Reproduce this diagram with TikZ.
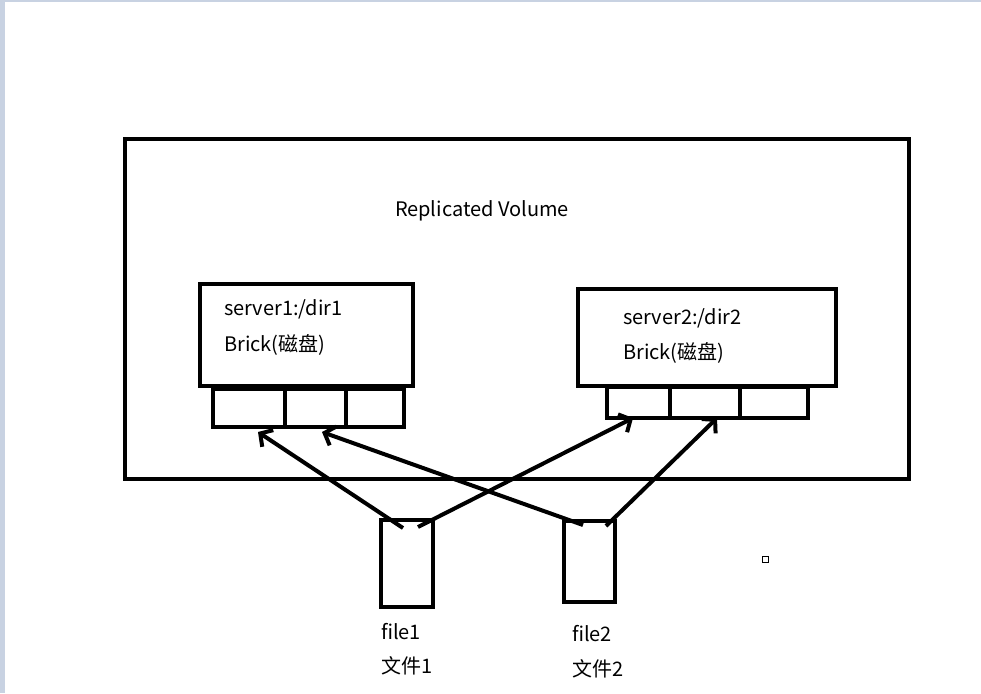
\documentclass[tikz,border=0pt]{standalone}
\usepackage{fontspec}
\setmainfont{Noto Sans CJK SC}
\usetikzlibrary{arrows.meta}
\definecolor{edgeblue}{HTML}{C8D2E2}
\tikzset{
  box/.style={draw=black, line width=4.5pt, inner sep=0pt},
  lbl/.style={anchor=west, inner sep=0pt, font=\fontsize{20}{23}\selectfont},
  arr/.style={line width=4pt, -{Straight Barb[length=9pt,width=20pt,line width=4pt]}}
}
\begin{document}
\begin{tikzpicture}[x=1pt,y=-1pt]
\useasboundingbox (0,0) rectangle (981,693);
\fill[edgeblue] (0,0) rectangle (981,2.5);
\fill[edgeblue] (0,0) rectangle (5,693);
% outer volume
\node[box, line width=4pt, minimum width=784, minimum height=340] (vol) at (517,309) {};
\node[inner sep=0pt, font=\fontsize{20}{23}\selectfont] (title) at (482,211) {Replicated Volume};
% server1
\node[box, minimum width=213, minimum height=102] (s1) at (306.5,335) {};
\node[lbl] (s1a) at (224,309) {server1:/dir1};
\node[lbl] (s1b) at (224,345) {Brick(磁盘)};
\node[box, line width=4pt, minimum width=191, minimum height=38] (b1) at (308.5,408) {};
\draw[line width=4pt] (285,390) -- (285,427);
\draw[line width=4pt] (346,390) -- (346,427);
% server2
\node[box, minimum width=258, minimum height=97] (s2) at (707,337.5) {};
\node[lbl] (s2a) at (623,318) {server2:/dir2};
\node[lbl] (s2b) at (623,353) {Brick(磁盘)};
\node[box, line width=4pt, minimum width=201, minimum height=31] (b2) at (707.5,402) {};
\draw[line width=4pt] (670,388) -- (670,417);
\draw[line width=4pt] (740,388) -- (740,417);
% files
\node[box, minimum width=52, minimum height=87] (f1) at (407,563.5) {};
\node[box, minimum width=51, minimum height=81] (f2) at (589.5,561.5) {};
\node[lbl] (f1a) at (381,632) {file1};
\node[lbl] (f1b) at (381,666) {文件1};
\node[lbl] (f2a) at (572,634) {file2};
\node[lbl] (f2b) at (572,669) {文件2};
% arrow endpoints
\coordinate (a1s) at (403,528);
\coordinate (a2s) at (418,527);
\coordinate (a3s) at (583,525);
\coordinate (a4s) at (606,526);
\coordinate (a1e) at (258,432);
\coordinate (a2e) at (633,418);
\coordinate (a3e) at (322,432);
\coordinate (a4e) at (717,418);
\draw[arr] (a1s) -- (a1e);
\draw[arr] (a2s) -- (a2e);
\draw[arr] (a3s) -- (a3e);
\draw[arr] (a4s) -- (a4e);
% small square
\node[draw=black, line width=1.5pt, minimum size=6pt, inner sep=0pt] (sq) at (765.5,559.5) {};
\end{tikzpicture}
\end{document}
